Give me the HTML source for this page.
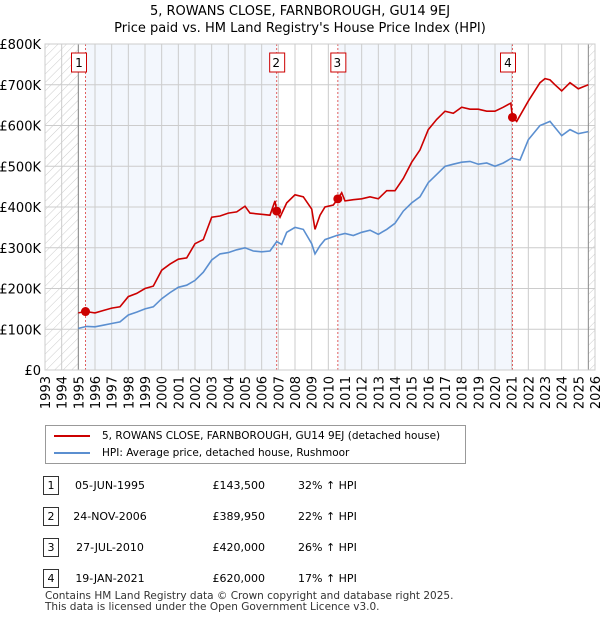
<!DOCTYPE html>
<html><head><meta charset="utf-8"><style>
body{margin:0;background:#fff;font-family:"DejaVu Sans","Liberation Sans",sans-serif;}
#wrap{position:relative;width:600px;height:620px;overflow:hidden}
.t{position:absolute;font-size:13px;color:#000;white-space:nowrap}
svg text{font-family:"DejaVu Sans","Liberation Sans",sans-serif}
</style></head><body>
<div id="wrap">
<div class="t" style="left:0;width:600px;text-align:center;top:4px">5, ROWANS CLOSE, FARNBOROUGH, GU14 9EJ</div>
<div class="t" style="left:0;width:600px;text-align:center;top:21px">Price paid vs. HM Land Registry's House Price Index (HPI)</div>
<svg id="chart" width="600" height="420" style="position:absolute;left:0;top:0"></svg>
<div style="position:absolute;left:45px;top:425px;width:419px;height:37px;border:1px solid #999;background:#fff">
 <div style="position:absolute;left:8px;top:4px;font-size:10.5px;white-space:nowrap"><span style="display:inline-block;width:36px;border-top:2px solid #c00;vertical-align:middle;margin-right:12px"></span>5, ROWANS CLOSE, FARNBOROUGH, GU14 9EJ (detached house)</div>
 <div style="position:absolute;left:8px;top:21px;font-size:10.5px;white-space:nowrap"><span style="display:inline-block;width:36px;border-top:2px solid #5b8fd0;vertical-align:middle;margin-right:12px"></span>HPI: Average price, detached house, Rushmoor</div>
</div>
<div id="tbl"></div>
<div class="t" style="left:45px;top:590px;font-size:10.5px;color:#333">Contains HM Land Registry data © Crown copyright and database right 2025.</div>
<div class="t" style="left:45px;top:601px;font-size:10.5px;color:#333">This data is licensed under the Open Government Licence v3.0.</div>
</div>
<script>
const hpiYears=[1995,1995.5,1996,1996.5,1997,1997.5,1998,1998.5,1999,1999.5,2000,2000.5,2001,2001.5,2002,2002.5,2003,2003.5,2004,2004.5,2005,2005.5,2006,2006.5,2006.9,2007.2,2007.5,2008,2008.5,2009,2009.2,2009.5,2009.8,2010.5,2011,2011.5,2012,2012.5,2013,2013.5,2014,2014.5,2015,2015.5,2016,2016.5,2017,2017.5,2018,2018.5,2019,2019.5,2020,2020.5,2021,2021.5,2022,2022.7,2023,2023.3,2023.6,2024,2024.5,2025,2025.6];
const hpiValues=[102,107,106,110,114,118,135,142,150,155,175,190,203,208,220,240,270,285,288,295,300,292,290,292,315,308,338,350,345,310,285,305,320,330,335,330,338,343,333,345,360,390,410,425,460,480,500,505,510,512,505,508,500,508,520,515,565,600,605,610,595,575,590,580,585];
const ppYears=[1995,1995.43,1996,1996.5,1997,1997.5,1998,1998.5,1999,1999.5,2000,2000.5,2001,2001.5,2002,2002.5,2003,2003.5,2004,2004.5,2005,2005.3,2006,2006.5,2006.8,2006.9,2007.1,2007.5,2008,2008.5,2009,2009.2,2009.5,2009.8,2010.3,2010.57,2010.8,2011,2011.5,2012,2012.5,2013,2013.5,2014,2014.5,2015,2015.5,2016,2016.5,2017,2017.5,2018,2018.5,2019,2019.5,2020,2020.5,2020.95,2021.05,2021.3,2022,2022.7,2023,2023.3,2023.6,2024,2024.5,2025,2025.3,2025.6];
const ppValues=[140,143.5,140,146,152,155,180,188,200,206,245,260,272,275,310,320,375,378,385,388,402,385,382,380,415,390,375,410,430,425,395,345,380,400,405,420,435,415,418,420,425,420,440,440,470,510,540,590,615,635,630,645,640,640,635,635,645,655,620,610,660,705,715,712,700,685,705,690,695,700];
const saleYears=[1995.43,2006.9,2010.57,2021.05];
const saleValues=[143.5,389.95,420,620];
const saleLabels=["1","2","3","4"];
const yTicks=[0,100,200,300,400,500,600,700,800];
const yTickLabels=["£0","£100K","£200K","£300K","£400K","£500K","£600K","£700K","£800K"];
const xTicks=[1993,1994,1995,1996,1997,1998,1999,2000,2001,2002,2003,2004,2005,2006,2007,2008,2009,2010,2011,2012,2013,2014,2015,2016,2017,2018,2019,2020,2021,2022,2023,2024,2025,2026];
const saleDates=["05-JUN-1995","24-NOV-2006","27-JUL-2010","19-JAN-2021"];
const salePrices=["£143,500","£389,950","£420,000","£620,000"];
const saleHpi=["32% ↑ HPI","22% ↑ HPI","26% ↑ HPI","17% ↑ HPI"];

const L=45,R=595,T=44,B=370;
const X=y=>L+(y-1993)/33*(R-L);
const Y=v=>B-v/800*(B-T);
const NS="http://www.w3.org/2000/svg";
const svg=document.getElementById('chart');
function mk(tag,a){const e=document.createElementNS(NS,tag);for(const k in a)e.setAttribute(k,a[k]);svg.appendChild(e);return e;}
let defs=document.createElementNS(NS,'defs');defs.innerHTML='<pattern id="hatch" width="6" height="6" patternUnits="userSpaceOnUse" patternTransform="rotate(45)"><line x1="0" y1="0" x2="0" y2="6" stroke="#ccc" stroke-width="1"/></pattern>';svg.appendChild(defs);
let e;
e=mk('rect',{x:L,y:T,width:X(1995)-L,height:B-T,fill:'url(#hatch)'});


e=mk('rect',{x:X(2025.6),y:T,width:R-X(2025.6),height:B-T,fill:'url(#hatch)'});


for(const [a,b] of [[saleYears[0],saleYears[1]],[saleYears[2],saleYears[3]]]){
 e=mk('rect',{x:X(a),y:T,width:X(b)-X(a),height:B-T,fill:'#eef3fc',opacity:0.7});
 
 
}
for(let i=0;i<yTicks.length;i++){
 e=mk('line',{x1:L,x2:R,y1:Y(yTicks[i]),y2:Y(yTicks[i]),stroke:'#ccc'});
 
 
 e=mk('text',{x:L-4,y:Y(yTicks[i])+5,'text-anchor':'end','font-size':'13'});e.textContent=yTickLabels[i];
 
 
}
for(const t of xTicks){
 e=mk('line',{x1:X(t),x2:X(t),y1:T,y2:B,stroke:'#ccc'});
 
 
 e=mk('text',{x:0,y:0,'font-size':'13',transform:`translate(${X(t)+5},${B+6}) rotate(-90)`,'text-anchor':'end'});e.textContent=t;
 
 
}
e=mk('line',{x1:X(1995),x2:X(1995),y1:T,y2:B,stroke:'#888'});


e=mk('line',{x1:X(2025.6),x2:X(2025.6),y1:T,y2:B,stroke:'#888'});


for(let i=0;i<saleYears.length;i++){
 e=mk('line',{x1:X(saleYears[i]),x2:X(saleYears[i]),y1:T,y2:B,stroke:'#e06060','stroke-dasharray':'2,2'});
 
 
}
const pts=(xs,vs)=>xs.map((x,i)=>X(x).toFixed(1)+','+Y(vs[i]).toFixed(1)).join(' ');
e=mk('polyline',{points:pts(hpiYears,hpiValues),fill:'none',stroke:'#5b8fd0','stroke-width':1.6});


e=mk('polyline',{points:pts(ppYears,ppValues),fill:'none',stroke:'#c00','stroke-width':1.6});


for(let i=0;i<saleYears.length;i++){
 e=mk('circle',{cx:X(saleYears[i]),cy:Y(saleValues[i]),r:4.5,fill:'#c00'});
 
 
 e=mk('rect',{x:X(saleYears[i])-(i==0?14:i==3?12:7),y:53,width:15,height:19,fill:'#fff',stroke:'#c00'});
 
 
 e=mk('text',{x:X(saleYears[i])-(i==0?6.5:i==3?4.5:0.5),y:67,'text-anchor':'middle','font-size':'12'});e.textContent=saleLabels[i];
 
 
}
e=mk('rect',{x:L,y:T,width:R-L,height:B-T,fill:'none',stroke:'#ccc'});


const tbl=document.getElementById('tbl');
for(let i=0;i<4;i++){
 const y=476+i*31;
 const row=document.createElement('div');
 
 
 row.style.cssText=`position:absolute;left:0;top:${y}px;width:600px;height:20px;font-size:11px`;
 row.innerHTML=`<div style="position:absolute;left:43px;top:0;width:14px;height:17px;border:1px solid #333;text-align:center;line-height:17px">${saleLabels[i]}</div>
 <div style="position:absolute;left:60px;width:100px;text-align:center;top:3px">${saleDates[i]}</div>
 <div style="position:absolute;left:160px;width:105px;text-align:right;top:3px">${salePrices[i]}</div>
 <div style="position:absolute;left:298px;top:3px">${saleHpi[i]}</div>`;
 tbl.appendChild(row);
}
</script>
</body></html>
